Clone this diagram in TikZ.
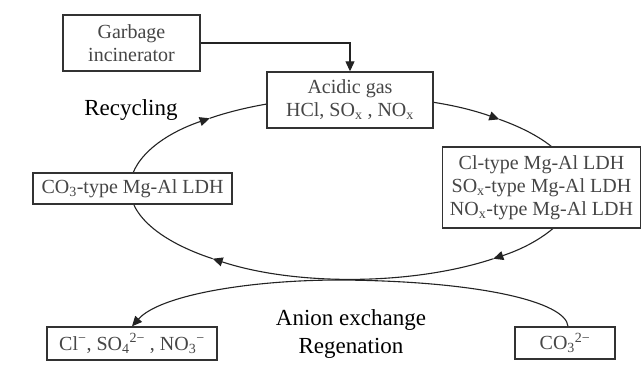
\documentclass[tikz,border=0pt]{standalone}
\usepackage{fontspec}
\setmainfont{Liberation Serif}
\usetikzlibrary{arrows.meta,calc}
\definecolor{boxline}{RGB}{50,50,50}
\definecolor{boxtext}{RGB}{70,70,70}
\definecolor{lineclr}{RGB}{35,35,35}
\tikzset{
  labelbox/.style={draw=boxline, line width=1.4pt, fill=white, text=boxtext, align=center, inner sep=0pt, font=\fontsize{20}{23}\selectfont},
  flow/.style={draw=lineclr, line width=1.1pt},
  tipped/.style={-{Triangle[length=10pt,width=9pt]}},
  bigtext/.style={text=black, align=center, inner sep=0pt, font=\fontsize{23}{28}\selectfont},
  ring/.style={flow, x radius=223pt, y radius=91pt},
}
\begin{document}
\begin{tikzpicture}[x=1pt,y=1pt]
\useasboundingbox[fill=white] (0,0) rectangle (642,-378);
\coordinate (c) at (353,-188);
% recycling cycle (clockwise)
\draw[ring, tipped] ($(c)+(180:223pt and 91pt)$) arc[start angle=180, end angle=130];
\draw[ring, tipped] ($(c)+(130:223pt and 91pt)$) arc[start angle=130, end angle=49];
\draw[ring, tipped] ($(c)+(49:223pt and 91pt)$) arc[start angle=49, end angle=-51];
\draw[ring, tipped] ($(c)+(-51:223pt and 91pt)$) arc[start angle=-51, end angle=-129];
\draw[ring] ($(c)+(-129:223pt and 91pt)$) arc[start angle=-129, end angle=-180];
% boxes
\node[labelbox, minimum width=137pt, minimum height=56pt] (garb) at (131.5,-43) {Garbage\\incinerator};
\node[labelbox, minimum width=166pt, minimum height=56pt] (acid) at (350,-100) {Acidic gas\\HCl, SO\textsubscript{x} , NO\textsubscript{x}};
\node[labelbox, minimum width=198pt, minimum height=81pt] (ldh) at (541.5,-187.5) {Cl-type Mg-Al LDH\\SO\textsubscript{x}-type Mg-Al LDH\\NO\textsubscript{x}-type Mg-Al LDH};
\node[labelbox, minimum width=199pt, minimum height=31pt] (co3) at (132.5,-188.5) {CO\textsubscript{3}-type Mg-Al LDH};
\node[labelbox, minimum width=170pt, minimum height=33pt] (cl) at (132,-343.5) {Cl\textsuperscript{−}, SO\textsubscript{4}\textsuperscript{2−} , NO\textsubscript{3}\textsuperscript{−}};
\node[labelbox, minimum width=100pt, minimum height=32pt] (cr) at (565,-343) {CO\textsubscript{3}\textsuperscript{2−}};
% labels
\node[bigtext] (rec) at (131,-110) {Recycling};
\node[bigtext] (anion) at (351,-334) {Anion exchange\\Regenation};
% connectors
\draw[flow, tipped] (garb.east) -| (acid.north);
\coordinate (touch) at (340,-280);
\draw[flow, tipped] ($(cr.north)+(3,0)$) .. controls (566,-302) and (480,-281) .. (touch)
   .. controls (250,-280) and (160,-295) .. (cl.north);
\end{tikzpicture}
\end{document}
